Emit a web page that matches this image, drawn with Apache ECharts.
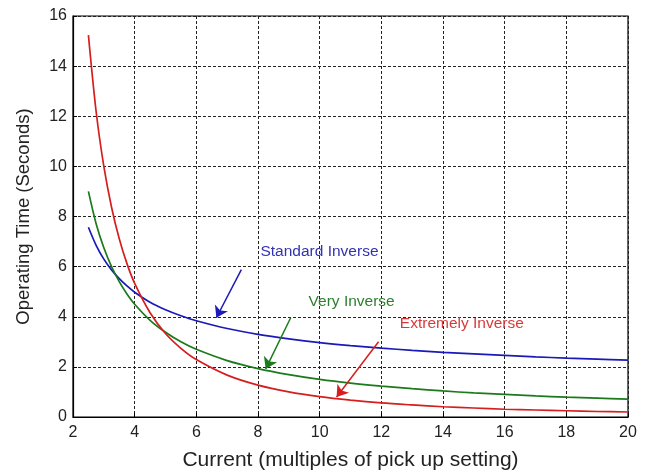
<!DOCTYPE html>
<html>
<head>
<meta charset="utf-8">
<script src="https://cdn.jsdelivr.net/npm/echarts@6/dist/echarts.min.js"></script>
<style>html,body{margin:0;padding:0;background:#fff}#c{width:650px;height:472px}</style>
</head>
<body>
<div id="c"></div>
<script>
var current = [2.5, 2.75, 3, 3.25, 3.5, 3.75, 4, 4.5, 5, 5.5, 6, 7, 8, 9, 10, 11, 12, 13, 14, 15, 16, 17, 18, 19, 20];
var standardInverse = [7.57, 6.85, 6.30, 5.87, 5.52, 5.23, 4.98, 4.58, 4.28, 4.04, 3.84, 3.53, 3.30, 3.12, 2.97, 2.85, 2.75, 2.66, 2.58, 2.52, 2.46, 2.40, 2.35, 2.31, 2.27];
var veryInverse = [9.0, 7.71, 6.75, 6.0, 5.4, 4.91, 4.5, 3.86, 3.38, 3.0, 2.7, 2.25, 1.93, 1.69, 1.5, 1.35, 1.23, 1.13, 1.04, 0.96, 0.9, 0.84, 0.79, 0.75, 0.71];
var extremelyInverse = [15.24, 12.19, 10.0, 8.37, 7.11, 6.12, 5.33, 4.16, 3.33, 2.74, 2.29, 1.67, 1.27, 1.0, 0.81, 0.67, 0.56, 0.48, 0.41, 0.36, 0.31, 0.28, 0.25, 0.22, 0.20];
var seriesNames = ['Standard Inverse', 'Very Inverse', 'Extremely Inverse'];
// annotation arrows: [from, to] in data coordinates
var arrowSI = [[7.46, 5.88], [6.65, 3.96]];
var arrowVI = [[9.06, 3.96], [8.25, 1.92]];
var arrowEI = [[11.91, 3.0], [10.55, 0.8]];
// label anchor (left, middle) in data coordinates
var labelSI = [8.08, 6.6];
var labelVI = [9.64, 4.6];
var labelEI = [12.6, 3.72];

function pairs(ys) { return current.map(function (x, i) { return [x, ys[i]]; }); }

var lineColors = ['#1a1ab8', '#1b7a1b', '#d61e1e'];
var textColors = ['#3232b4', '#2d7f2d', '#d83a3a'];
var FONT = 'Liberation Sans, Arial, sans-serif';

function mk(name, ys, ci, arrow, lab) {
  return {
    name: name, type: 'line', data: pairs(ys), smooth: 0.3, showSymbol: false,
    lineStyle: { color: lineColors[ci], width: 1.7 },
    itemStyle: { color: lineColors[ci] },
    markLine: {
      silent: true, animation: false,
      symbol: ['none', 'arrow'], symbolSize: 11,
      label: { show: false },
      lineStyle: { color: lineColors[ci], width: 1.5, type: 'solid' },
      data: [[{ coord: arrow[0] }, { coord: arrow[1] }]]
    },
    markPoint: {
      silent: true, animation: false,
      symbol: 'circle', symbolSize: 0,
      label: {
        show: true, position: 'right', distance: 0,
        formatter: name, color: textColors[ci],
        fontFamily: FONT, fontSize: 15.5
      },
      data: [{ coord: lab, value: 0 }]
    }
  };
}

var chart = echarts.init(document.getElementById('c'), null, { renderer: 'canvas' });
chart.setOption({
  animation: false,
  backgroundColor: '#fff',
  grid: { left: 73, right: 22, top: 16, bottom: 55, containLabel: false, outerBoundsMode: 'none',
          show: true, borderColor: '#000', borderWidth: 1.2 },
  xAxis: {
    type: 'value', min: 2, max: 20, interval: 2,
    name: 'Current (multiples of pick up setting)', nameLocation: 'middle', nameGap: 33,
    nameTextStyle: { fontFamily: FONT, fontSize: 21, color: '#222' },
    axisLine: { show: true, lineStyle: { color: '#000', width: 1.2 } },
    axisTick: { show: true, inside: true, length: 4, lineStyle: { color: '#000' } },
    axisLabel: { fontFamily: FONT, fontSize: 16, color: '#222', margin: 8 },
    splitLine: { show: true, lineStyle: { color: '#222', type: [3, 2], width: 1 } }
  },
  yAxis: {
    type: 'value', min: 0, max: 16, interval: 2,
    name: 'Operating Time (Seconds)', nameLocation: 'middle', nameGap: 40,
    nameTextStyle: { fontFamily: FONT, fontSize: 18.5, color: '#222' },
    axisLine: { show: true, lineStyle: { color: '#000', width: 1.2 } },
    axisTick: { show: true, inside: true, length: 4, lineStyle: { color: '#000' } },
    axisLabel: { fontFamily: FONT, fontSize: 16, color: '#222', margin: 6 },
    splitLine: { show: true, lineStyle: { color: '#222', type: [3, 2], width: 1 } }
  },
  series: [
    mk(seriesNames[0], standardInverse, 0, arrowSI, labelSI),
    mk(seriesNames[1], veryInverse, 1, arrowVI, labelVI),
    mk(seriesNames[2], extremelyInverse, 2, arrowEI, labelEI)
  ]
});
</script>
</body>
</html>
